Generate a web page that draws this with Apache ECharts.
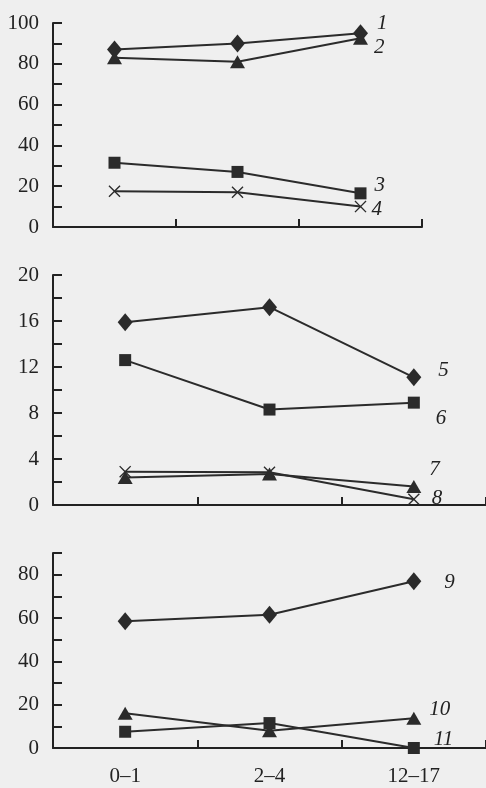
<!DOCTYPE html>
<html>
<head>
<meta charset="utf-8">
<script src="https://cdn.jsdelivr.net/npm/echarts@6/dist/echarts.min.js"></script>
<style>
  html, body { margin: 0; padding: 0; background: #efefef; }
  #chart { width: 486px; height: 788px; }
</style>
</head>
<body>
<div id="chart"></div>
<script>
// age groups
const categories = ['0–1', '2–4', '12–17'];

// top panel
const s1 = [87, 90, 95];
const s2 = [83, 81, 92.5];
const s3 = [31.5, 27, 16.5];
const s4 = [17.5, 17, 10];
// middle panel
const s5 = [15.9, 17.2, 11.1];
const s6 = [12.6, 8.3, 8.9];
const s7 = [2.4, 2.7, 1.6];
const s8 = [2.9, 2.85, 0.5];
// bottom panel
const s9 = [58.5, 61.5, 77];
const s10 = [16, 8, 13.7];
const s11 = [7.5, 11.5, 0];

const yTicks1 = [0, 20, 40, 60, 80, 100];
const yTicks2 = [0, 4, 8, 12, 16, 20];
const yTicks3 = [0, 20, 40, 60, 80];

const ink = '#222';
const font = '"Liberation Serif", "DejaVu Serif", serif';
const cross = 'path://M0,1.6L1.6,0L10,8.4L18.4,0L20,1.6L11.6,10L20,18.4L18.4,20L10,11.6L1.6,20L0,18.4L8.4,10Z';
const marks = {
  diamond: { symbol: 'diamond', size: [15, 18] },
  triangle: { symbol: 'triangle', size: [15, 13] },
  square: { symbol: 'rect', size: 12 },
  cross: { symbol: cross, size: 12 }
};

function mkSeries(name, vals, grid, mark, off) {
  const data = vals.map(function (v, i) {
    if (i < vals.length - 1) return v;
    return {
      value: v,
      label: {
        show: true, position: 'right', formatter: name, offset: off,
        fontFamily: font, fontStyle: 'italic', fontSize: 21, color: ink
      }
    };
  });
  return {
    type: 'line', name: name, xAxisIndex: grid, yAxisIndex: grid,
    data: data, clip: false, animation: false,
    symbol: marks[mark].symbol, symbolSize: marks[mark].size,
    lineStyle: { color: '#2b2b2b', width: 2 },
    itemStyle: { color: '#2b2b2b', borderWidth: 0 }
  };
}

function xAx(grid, showLabel) {
  return {
    type: 'category', gridIndex: grid, data: categories, boundaryGap: true,
    axisLine: { lineStyle: { color: ink, width: 2 } },
    axisTick: { show: true, inside: true, length: 8, lineStyle: { color: ink, width: 2 } },
    axisLabel: { show: showLabel, fontFamily: font, fontSize: 21, color: ink, margin: 18 },
    splitLine: { show: false }
  };
}

function yAx(grid, max, step, labels) {
  return {
    type: 'value', gridIndex: grid, min: 0, max: max, interval: step,
    axisLine: { show: true, lineStyle: { color: ink, width: 2 } },
    axisTick: { show: true, inside: true, length: 9, lineStyle: { color: ink, width: 2 } },
    axisLabel: {
      fontFamily: font, fontSize: 21, color: ink, margin: 14,
      formatter: function (v) { return labels.indexOf(v) >= 0 ? String(v) : ''; }
    },
    splitLine: { show: false }
  };
}

const chart = echarts.init(document.getElementById('chart'));
chart.setOption({
  backgroundColor: '#efefef',
  grid: [
    { left: 53, top: 23, width: 369, height: 204 },
    { left: 53, top: 275, width: 443, height: 230 },
    { left: 53, top: 553, width: 443, height: 195 }
  ],
  xAxis: [xAx(0, false), xAx(1, false), xAx(2, true)],
  yAxis: [yAx(0, 100, 10, yTicks1), yAx(1, 20, 2, yTicks2), yAx(2, 90, 10, yTicks3)],
  series: [
    mkSeries('1', s1, 0, 'diamond', [4, -10]),
    mkSeries('2', s2, 0, 'triangle', [1, 9]),
    mkSeries('3', s3, 0, 'square', [3, -8]),
    mkSeries('4', s4, 0, 'cross', [0, 3]),
    mkSeries('5', s5, 1, 'diamond', [12, -7]),
    mkSeries('6', s6, 1, 'square', [11, 16]),
    mkSeries('7', s7, 1, 'triangle', [3, -17]),
    mkSeries('8', s8, 1, 'cross', [7, -1]),
    mkSeries('9', s9, 2, 'diamond', [18, 1]),
    mkSeries('10', s10, 2, 'triangle', [3, -9]),
    mkSeries('11', s11, 2, 'square', [9, -9])
  ]
});
</script>
</body>
</html>
